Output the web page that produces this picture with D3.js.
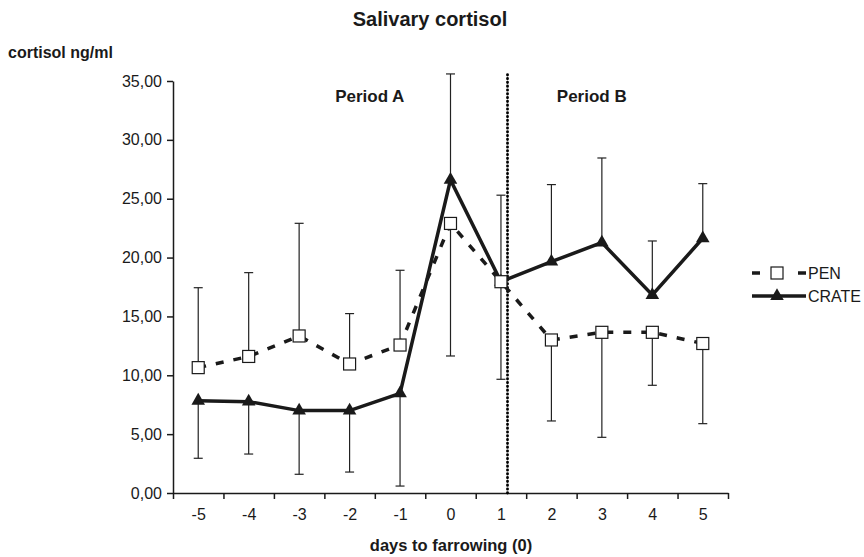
<!DOCTYPE html>
<html>
<head>
<meta charset="utf-8">
<script src="https://cdn.jsdelivr.net/npm/d3@7"></script>
<style>
  html, body { margin: 0; padding: 0; background: #fff; }
  svg { display: block; font-family: "Liberation Sans", Arial, sans-serif; }
</style>
</head>
<body>
<svg id="chart" width="864" height="557"></svg>
<script>
// ---- data ----
const days = [-5, -4, -3, -2, -1, 0, 1, 2, 3, 4, 5];
const penMean   = [10.65, 11.6, 13.34, 10.96, 12.57, 22.9, 17.95, 13.0, 13.65, 13.65, 12.7];
const penSD     = [6.79, 7.12, 9.57, 4.28, 6.35, 11.26, 8.29, 6.88, 8.92, 4.5, 6.81];
const crateMean = [7.84, 7.76, 7.0, 7.0, 8.47, 26.6, 17.95, 19.65, 21.27, 16.82, 21.64];
const crateSD   = [4.89, 4.45, 5.41, 5.22, 7.88, 9.0, 7.35, 6.55, 7.19, 4.59, 4.64];
const yTicks = [0, 5, 10, 15, 20, 25, 30, 35];
const periodSplit = 1.13;
const seriesNames = ["PEN", "CRATE"];

// ---- layout ----
const svg = d3.select("#chart");
const mLeft = 173, mRight = 728, mTop = 81, mBottom = 493;
const ink = "#1a1a1a";

const x = d3.scaleLinear().domain([-5.5, 5.5]).range([mLeft, mRight]);
const y = d3.scaleLinear().domain([0, 35]).range([mBottom, mTop]);

// title
svg.append("text").attr("x", 430).attr("y", 26).attr("text-anchor", "middle")
  .attr("font-size", 20).attr("font-weight", "bold").attr("fill", ink).text("Salivary cortisol");
svg.append("text").attr("x", 8).attr("y", 58)
  .attr("font-size", 16).attr("font-weight", "bold").attr("fill", ink).text("cortisol ng/ml");

// y axis
const yAxis = svg.append("g").attr("transform", `translate(${mLeft},0)`)
  .call(d3.axisLeft(y).tickValues(yTicks).tickSize(6).tickSizeOuter(0).tickPadding(5)
    .tickFormat(d => d.toFixed(2).replace(".", ",")));
yAxis.selectAll("path, line").attr("stroke", ink).attr("stroke-width", 1.5);
yAxis.selectAll("text").attr("font-size", 16).attr("fill", ink).attr("font-family", "Liberation Sans, Arial, sans-serif");

// x axis (ticks at category boundaries)
const bounds = d3.range(-5.5, 6, 1);
const xAxis = svg.append("g").attr("transform", `translate(0,${mBottom})`)
  .call(d3.axisBottom(x).tickValues(bounds).tickSize(6).tickSizeOuter(0).tickFormat(""));
xAxis.selectAll("path, line").attr("stroke", ink).attr("stroke-width", 1.5);
const xLab = svg.append("g").attr("transform", `translate(0,${mBottom})`)
  .call(d3.axisBottom(x).tickValues(days).tickSize(0).tickPadding(16).tickFormat(d => String(d)));
xLab.select(".domain").remove();
xLab.selectAll("text").attr("font-size", 16).attr("fill", ink).attr("font-family", "Liberation Sans, Arial, sans-serif");

svg.append("text").attr("x", 451).attr("y", 551).attr("text-anchor", "middle")
  .attr("font-size", 16.5).attr("font-weight", "bold").attr("fill", ink).text("days to farrowing (0)");

// period divider
svg.append("line").attr("x1", x(periodSplit)).attr("x2", x(periodSplit))
  .attr("y1", mBottom).attr("y2", y(35.6))
  .attr("stroke", "#000").attr("stroke-width", 2.8).attr("stroke-linecap", "round")
  .attr("stroke-dasharray", "0.4,3.4");
svg.append("text").attr("x", x(-1.6)).attr("y", 102).attr("text-anchor", "middle")
  .attr("font-size", 17).attr("font-weight", "bold").attr("fill", ink).text("Period A");
svg.append("text").attr("x", x(2.8)).attr("y", 102).attr("text-anchor", "middle")
  .attr("font-size", 17).attr("font-weight", "bold").attr("fill", ink).text("Period B");

// error bars: each drawn away from the other series
const eb = svg.append("g").attr("stroke", "#222").attr("stroke-width", 1.2);
days.forEach((d, i) => {
  const penUp = penMean[i] > crateMean[i];
  const pEnd = penUp ? penMean[i] + penSD[i] : penMean[i] - penSD[i];
  const cEnd = penUp ? crateMean[i] - crateSD[i] : crateMean[i] + crateSD[i];
  [[penMean[i], pEnd], [crateMean[i], cEnd]].forEach(([m, e]) => {
    eb.append("line").attr("x1", x(d)).attr("x2", x(d)).attr("y1", y(m)).attr("y2", y(e));
    eb.append("line").attr("x1", x(d) - 4.5).attr("x2", x(d) + 4.5).attr("y1", y(e)).attr("y2", y(e));
  });
});

// lines
const line = d3.line().x((v, i) => x(days[i])).y(v => y(v));
svg.append("path").datum(penMean).attr("d", line).attr("fill", "none")
  .attr("stroke", ink).attr("stroke-width", 3.5).attr("stroke-dasharray", "8,10");
svg.append("path").datum(crateMean).attr("d", line).attr("fill", "none")
  .attr("stroke", ink).attr("stroke-width", 3.5).attr("stroke-linejoin", "miter");

// markers
const tri = d3.symbol().type(d3.symbolTriangle).size(80);
svg.append("g").selectAll("path").data(crateMean).join("path")
  .attr("d", tri).attr("transform", (v, i) => `translate(${x(days[i])},${y(v)})`)
  .attr("fill", ink);
svg.append("g").selectAll("rect").data(penMean).join("rect")
  .attr("x", (v, i) => x(days[i]) - 6).attr("y", v => y(v) - 6)
  .attr("width", 12).attr("height", 12)
  .attr("fill", "#fff").attr("stroke", ink).attr("stroke-width", 1.2);

// legend
const lg = svg.append("g");
const rows = [273, 296];
lg.append("line").attr("x1", 752).attr("x2", 806).attr("y1", rows[0]).attr("y2", rows[0])
  .attr("stroke", ink).attr("stroke-width", 3.5).attr("stroke-dasharray", "8,38");
lg.append("rect").attr("x", 771).attr("y", rows[0] - 6).attr("width", 12).attr("height", 12)
  .attr("fill", "#fff").attr("stroke", ink).attr("stroke-width", 1.2);
lg.append("line").attr("x1", 752).attr("x2", 806).attr("y1", rows[1]).attr("y2", rows[1])
  .attr("stroke", ink).attr("stroke-width", 3.5);
lg.append("path").attr("d", tri).attr("transform", `translate(777,${rows[1]})`).attr("fill", ink);
seriesNames.forEach((n, i) => {
  lg.append("text").attr("x", 808).attr("y", rows[i]).attr("dy", "0.36em")
    .attr("font-size", 16).attr("fill", ink).text(n);
});
</script>
</body>
</html>
